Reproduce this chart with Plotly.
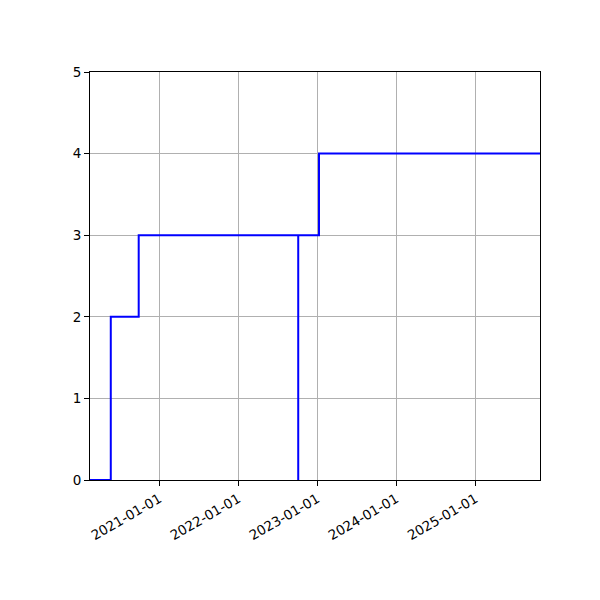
import plotly.graph_objects as go

# step series (one dip back to 0 on 2022-10-05)
dates = ["2020-02-16", "2020-05-22", "2020-09-28", "2022-10-05",
         "2022-10-05", "2023-01-09", "2025-10-26"]
values = [0, 2, 3, 0, 3, 4, 4]

x_ticks = ["2021-01-01", "2022-01-01", "2023-01-01", "2024-01-01", "2025-01-01"]
y_ticks = [0, 1, 2, 3, 4, 5]

fig = go.Figure()
fig.add_trace(go.Scatter(
    x=dates,
    y=values,
    mode="lines",
    line=dict(color="#0000ff", width=2, shape="hv"),
    showlegend=False,
))

axis_style = dict(
    showline=True,
    linecolor="black",
    linewidth=1,
    mirror=True,
    ticks="outside",
    ticklen=5,
    tickcolor="black",
    showgrid=True,
    gridcolor="#b0b0b0",
    gridwidth=1,
    zeroline=False,
    tickfont=dict(family="DejaVu Sans", size=13.5, color="black"),
)

fig.update_xaxes(
    type="date",
    range=["2020-02-16", "2025-10-26"],
    tickmode="array",
    tickvals=x_ticks,
    ticktext=x_ticks,
    tickangle=-30,
    **axis_style,
)
fig.update_yaxes(
    range=[0, 5],
    tickmode="array",
    tickvals=y_ticks,
    **axis_style,
)
# page body adds ~8px offset, so margins are shifted to compensate
fig.update_layout(
    width=600,
    height=600,
    margin=dict(l=82, r=68, t=64, b=128),
    plot_bgcolor="white",
    paper_bgcolor="white",
    font=dict(family="DejaVu Sans"),
)

fig.write_html("out.html")
